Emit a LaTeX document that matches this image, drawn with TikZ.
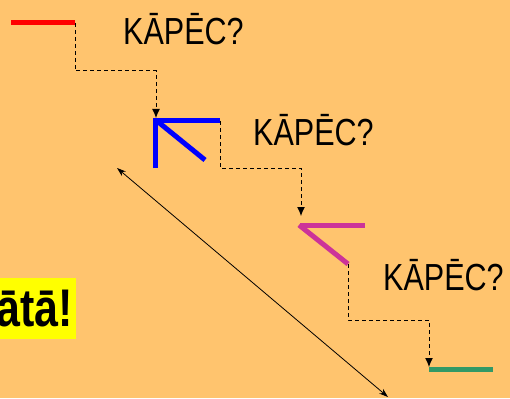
\documentclass[tikz,border=0pt]{standalone}
\usepackage{fontspec}
\setmainfont{Liberation Sans}
\newfontfamily\narrowsans[FakeStretch=0.81]{Liberation Sans}
\usetikzlibrary{arrows.meta}
\definecolor{bgorange}{HTML}{FFC46E}
\definecolor{stepred}{HTML}{FF0000}
\definecolor{stepblue}{HTML}{0000FF}
\definecolor{stepmagenta}{HTML}{CC3399}
\definecolor{stepgreen}{HTML}{339966}
\definecolor{markyellow}{HTML}{FFFF00}
\tikzset{
  stepline/.style={line width=5pt},
  hop/.style={dash pattern=on 4pt off 3pt, line width=1pt, -{Latex[length=9pt,width=8pt]}},
  ask/.style={font=\narrowsans\fontsize{37.7}{40}\selectfont, inner sep=0pt, anchor=base west}
}

\begin{document}
\begin{tikzpicture}[x=1pt,y=-1pt]
    \useasboundingbox (0,0) rectangle (510,398);
    \fill[bgorange] (0,0) rectangle (510,398);
    % the four steps
    \draw[stepline,stepred] (11,23) -- (75,23) coordinate (redend);
    \draw[stepline,stepblue] (155,168) -- (155,121) -- (220,121) coordinate (blueend);
    \draw[stepline,stepblue] (157,121) -- (205,160);
    \draw[stepline,stepmagenta] (300,225) -- (365,225);
    \draw[stepline,stepmagenta] (299,225) -- (348,264) coordinate (magend);
    \draw[stepline,stepgreen] (429,369) -- (493,369);
    % where the hops land
    \coordinate (bluetip) at (156,118);
    \coordinate (magtip) at (301,216);
    \coordinate (greentip) at (429,367);
    % dashed hops from step to step
    \draw[hop] (redend) -- ++(0,48) -| (bluetip);
    \draw[hop] (blueend) -- ++(0,47) -| (magtip);
    \draw[hop] (magend) -- ++(0,56) -| (greentip);
    % questions
    \node[ask] (q1) at (123,45) {KĀPĒC?};
    \node[ask] (q2) at (253,145) {KĀPĒC?};
    \node[ask] (q3) at (383,290) {KĀPĒC?};
    % slope
    \coordinate (slopetop) at (117,168);
    \coordinate (slopebot) at (388,397);
    \draw[line width=0.8pt,{Stealth[length=9pt,width=6pt]}-{Stealth[length=9pt,width=6pt]}] (slopetop) -- (slopebot);
    % highlighted word
    \node[fill=markyellow, anchor=east, inner xsep=3pt, inner ysep=0pt, minimum height=61pt,
          font=\narrowsans\bfseries\fontsize{53}{56}\selectfont] (hint) at (76,308.5) {ātā!};
\end{tikzpicture}
\end{document}
